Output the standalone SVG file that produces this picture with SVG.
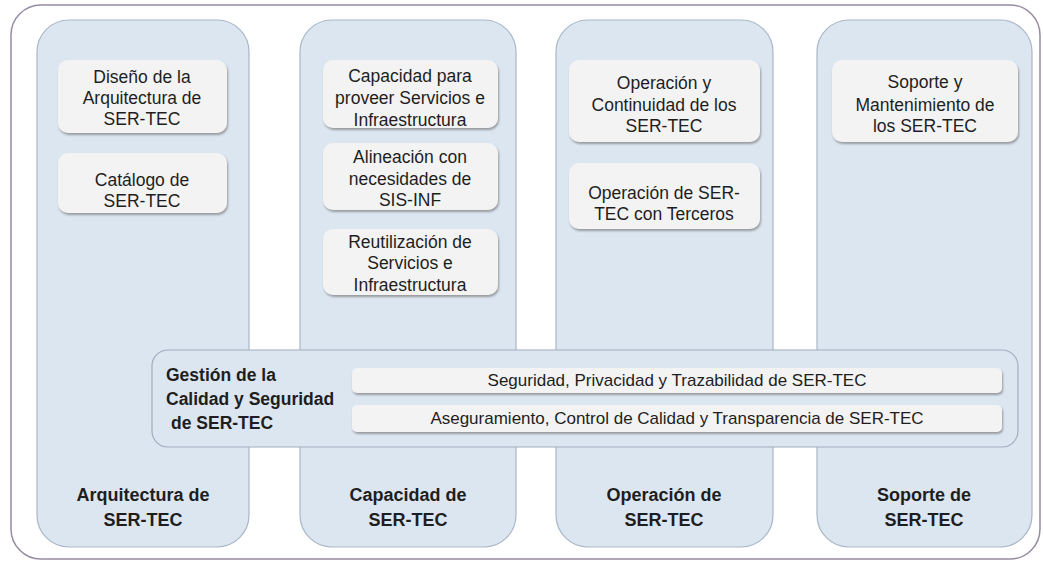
<svg xmlns="http://www.w3.org/2000/svg" width="1043" height="562" viewBox="0 0 1043 562">
<style>
.frame{fill:#ffffff;stroke:#968ca0;stroke-width:1.5}
.col{fill:#dce6f1;stroke:#a9b7c7;stroke-width:1.2}
.item{fill:#f3f3f3;stroke:none;filter:url(#sh)}
.band{fill:#dce6f1;stroke:#9fadbd;stroke-width:1.2}
.t{font-family:"Liberation Sans",Arial,sans-serif;font-size:17.5px;fill:#1e1e1e;text-anchor:middle}
.s{font-family:"Liberation Sans",Arial,sans-serif;font-size:17px;fill:#1e1e1e;text-anchor:middle}
.b{font-family:"Liberation Sans",Arial,sans-serif;font-size:18px;font-weight:bold;fill:#1e1e1e;text-anchor:middle}
.bl{font-family:"Liberation Sans",Arial,sans-serif;font-size:17.5px;font-weight:bold;fill:#1e1e1e;text-anchor:start}
</style>
<defs>
<filter id="sh" x="-10%" y="-20%" width="120%" height="150%">
<feDropShadow dx="1" dy="2" stdDeviation="1.3" flood-color="#7a7a7a" flood-opacity="0.7"/>
</filter>
</defs>
<rect class="frame" x="11" y="5" width="1029" height="554" rx="30" ry="30"/>

<g id="col-arquitectura">
<rect class="col" x="37" y="20" width="212" height="527" rx="32" ry="32"/>
<text class="b" x="143" y="501">Arquitectura de</text>
<text class="b" x="143" y="526">SER-TEC</text>
</g>
<g id="col-capacidad">
<rect class="col" x="300" y="20" width="216" height="527" rx="32" ry="32"/>
<text class="b" x="408" y="501">Capacidad de</text>
<text class="b" x="408" y="526">SER-TEC</text>
</g>
<g id="col-operacion">
<rect class="col" x="556" y="20" width="217" height="527" rx="32" ry="32"/>
<text class="b" x="664" y="501">Operación de</text>
<text class="b" x="664" y="526">SER-TEC</text>
</g>
<g id="col-soporte">
<rect class="col" x="817" y="20" width="215" height="527" rx="32" ry="32"/>
<text class="b" x="924" y="501">Soporte de</text>
<text class="b" x="924" y="526">SER-TEC</text>
</g>

<g id="diseno">
<rect class="item" x="58" y="60" width="169" height="73" rx="10" ry="10"/>
<text class="t" x="142" y="83">Diseño de la</text>
<text class="t" x="142" y="104">Arquitectura de</text>
<text class="t" x="142" y="125">SER-TEC</text>
</g>
<g id="catalogo">
<rect class="item" x="58" y="153" width="169" height="60" rx="10" ry="10"/>
<text class="t" x="142" y="186">Catálogo de</text>
<text class="t" x="142" y="207">SER-TEC</text>
</g>

<g id="capacidad-proveer">
<rect class="item" x="323" y="60" width="175" height="68" rx="10" ry="10"/>
<text class="t" x="410" y="82">Capacidad  para</text>
<text class="t" x="410" y="104">proveer Servicios e</text>
<text class="t" x="410" y="126">Infraestructura</text>
</g>
<g id="alineacion">
<rect class="item" x="323" y="143" width="175" height="67" rx="10" ry="10"/>
<text class="t" x="410" y="163">Alineación con</text>
<text class="t" x="410" y="185">necesidades de</text>
<text class="t" x="410" y="206">SIS-INF</text>
</g>
<g id="reutilizacion">
<rect class="item" x="323" y="229" width="175" height="66" rx="10" ry="10"/>
<text class="t" x="410" y="248">Reutilización de</text>
<text class="t" x="410" y="269">Servicios e</text>
<text class="t" x="410" y="291">Infraestructura</text>
</g>

<g id="operacion-continuidad">
<rect class="item" x="569" y="60" width="191" height="82" rx="10" ry="10"/>
<text class="t" x="664" y="89">Operación y</text>
<text class="t" x="664" y="111">Continuidad de los</text>
<text class="t" x="664" y="132">SER-TEC</text>
</g>
<g id="operacion-terceros">
<rect class="item" x="569" y="163" width="191" height="66" rx="10" ry="10"/>
<text class="t" x="664" y="199">Operación de SER-</text>
<text class="t" x="664" y="220">TEC con Terceros</text>
</g>

<g id="soporte-mantenimiento">
<rect class="item" x="832" y="60" width="186" height="82" rx="10" ry="10"/>
<text class="t" x="925" y="88">Soporte  y</text>
<text class="t" x="925" y="111">Mantenimiento de</text>
<text class="t" x="925" y="132">los SER-TEC</text>
</g>

<g id="gestion">
<rect class="band" x="152" y="350" width="866" height="97" rx="16" ry="16"/>
<text class="bl" x="166" y="381">Gestión de la</text>
<text class="bl" x="166" y="405">Calidad y Seguridad</text>
<text class="bl" x="171" y="429">de SER-TEC</text>
</g>
<g id="seguridad">
<rect class="item" x="352" y="368" width="650" height="25" rx="5" ry="5"/>
<text class="s" x="677" y="386">Seguridad, Privacidad y Trazabilidad de SER-TEC</text>
</g>
<g id="aseguramiento">
<rect class="item" x="352" y="405" width="650" height="27" rx="5" ry="5"/>
<text class="s" x="677" y="424">Aseguramiento, Control de Calidad y Transparencia de SER-TEC</text>
</g>
<g id="connectors"></g>
</svg>
